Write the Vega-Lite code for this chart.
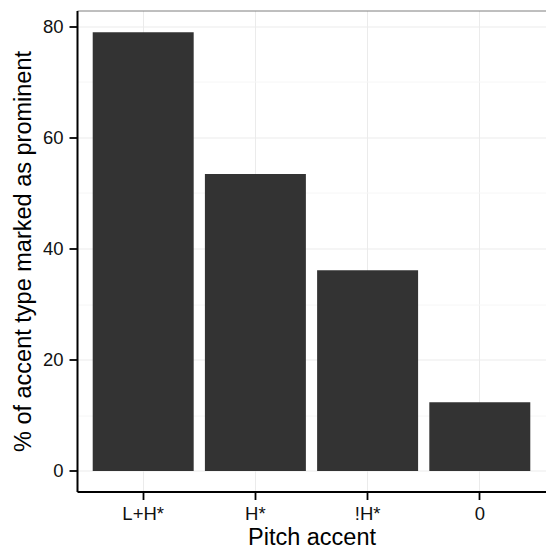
{
  "$schema": "https://vega.github.io/schema/vega-lite/v6.json",
  "autosize": {"type": "none"},
  "padding": {"left": 77, "top": 10.5, "right": 0, "bottom": 57.5},
  "width": 469,
  "height": 481,
  "background": "white",
  "config": {
    "view": {"stroke": null},
    "font": "Liberation Sans",
    "axis": {"labelFont": "Liberation Sans", "titleFont": "Liberation Sans", "labelColor": "#111111", "titleColor": "#000000", "titleFontWeight": "normal"}
  },
  "resolve": {"axis": {"x": "independent"}},
  "data": {
    "values": [
      {"accent": "L+H*", "pct": 78.9},
      {"accent": "H*", "pct": 53.4},
      {"accent": "!H*", "pct": 36.1},
      {"accent": "0", "pct": 12.35}
    ]
  },
  "layer": [
    {
      "mark": {"type": "bar", "color": "#333333"},
      "encoding": {
        "x": {
          "field": "accent",
          "type": "nominal",
          "sort": ["L+H*", "H*", "!H*", "0"],
          "scale": {"paddingInner": 0.1, "paddingOuter": 0.14},
          "title": "Pitch accent",
          "axis": {
            "orient": "bottom",
            "bandPosition": 0.5,
            "labelAngle": 0,
            "labelFontSize": 18.5,
            "labelPadding": 5,
            "titleFontSize": 23.5,
            "titlePadding": 2,
            "domainColor": "#000000",
            "domainWidth": 2,
            "tickColor": "#000000",
            "tickWidth": 1.8,
            "tickSize": 8,
            "grid": true,
            "gridColor": "#ebebeb",
            "gridWidth": 1
          }
        },
        "y": {
          "field": "pct",
          "type": "quantitative",
          "scale": {"domain": [-3.69, 82.79], "nice": false, "zero": false},
          "title": "% of accent type marked as prominent",
          "axis": {
            "values": [0, 10, 20, 30, 40, 50, 60, 70, 80],
            "labelExpr": "datum.value % 20 == 0 ? datum.label : ''",
            "labelFontSize": 18.5,
            "labelPadding": 6,
            "titleFontSize": 23.5,
            "titlePadding": 7,
            "domainColor": "#000000",
            "domainWidth": 2,
            "tickColor": "#000000",
            "tickOpacity": {"condition": {"test": "datum.value % 20 == 0", "value": 1}, "value": 0},
            "tickWidth": 1.8,
            "tickSize": 8,
            "grid": true,
            "gridColor": {"condition": {"test": "datum.value % 20 == 0", "value": "#ebebeb"}, "value": "#f6f6f6"},
            "gridWidth": 1
          }
        },
        "y2": {"datum": 0}
      }
    },
    {
      "mark": {"type": "bar", "opacity": 0},
      "encoding": {
        "x": {
          "field": "accent",
          "type": "nominal",
          "sort": ["L+H*", "H*", "!H*", "0"],
          "axis": {"orient": "top", "labels": false, "ticks": false, "grid": false, "title": null, "domainColor": "#7f7f7f", "domainWidth": 1}
        },
        "y": {"field": "pct", "type": "quantitative"},
        "y2": {"datum": 0}
      }
    }
  ]
}
